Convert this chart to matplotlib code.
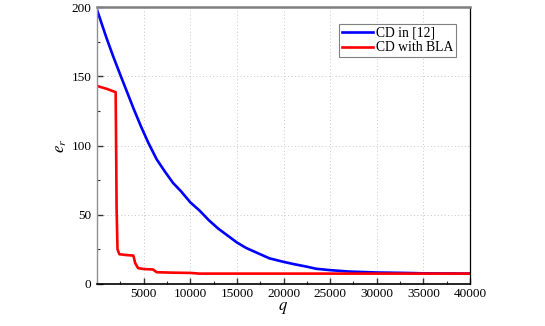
import matplotlib
matplotlib.use("Agg")
import matplotlib.pyplot as plt
from matplotlib.ticker import MultipleLocator

# values
q_cd = [0, 500, 1000, 1700, 2500, 3200, 3900, 4700, 5500, 6400, 7300, 8150,
        9000, 10000, 11000, 12000, 13000, 14000, 15000, 16000, 17000, 18500,
        20000, 21000, 22500, 23500, 25000, 27000, 30000, 33000, 35000, 40000]
e_cd = [198, 188, 178, 165, 151, 139, 127, 114, 102, 90, 81, 73,
        67, 59, 53, 46, 40, 35, 30, 26, 23, 18.5,
        16, 14.5, 12.5, 11, 10, 9, 8.3, 8, 7.7, 7.5]

q_bla = [0, 1000, 2000, 2050, 2100, 2200, 2400, 3000, 3900, 4100, 4400,
         5000, 6000, 6400, 8000, 10000, 11000, 40000]
e_bla = [143, 141, 138.5, 100, 55, 25, 21.5, 21, 20.5, 15, 11.5,
         10.8, 10.5, 8.5, 8.2, 8, 7.5, 7.5]

x_ticks = [5000, 10000, 15000, 20000, 25000, 30000, 35000, 40000]
y_ticks = [0, 50, 100, 150, 200]

plt.rcParams["font.family"] = ["Liberation Serif", "DejaVu Serif"]
plt.rcParams["mathtext.fontset"] = "stix"

fig = plt.figure(figsize=(5.45, 3.26), dpi=100)
ax = fig.add_axes([97 / 545, 1 - 284 / 326, (470 - 97) / 545, (284 - 7) / 326])

ax.plot(q_cd, e_cd, color="#0000ff", lw=1.9, label="CD in [12]")
ax.plot(q_bla, e_bla, color="#ff0000", lw=1.9, label="CD with BLA")

ax.set_xlim(0, 40000)
ax.set_ylim(0, 200)
ax.set_xticks(x_ticks)
ax.set_yticks(y_ticks)
ax.xaxis.set_minor_locator(MultipleLocator(2500))
ax.yaxis.set_minor_locator(MultipleLocator(25))
ax.tick_params(which="both", direction="in", labelsize=9.5, color="#333333")
ax.tick_params(axis="x", pad=3)
ax.tick_params(axis="y", pad=4)
ax.tick_params(which="major", length=4.5, width=1)
ax.tick_params(which="minor", length=2.5, width=0.8)
ax.tick_params(top=False, right=False, which="both")

ax.grid(True, which="major", linestyle=(0, (1, 2.5)), color="#c8c8c8", lw=0.7)

ax.spines["top"].set_color("#808080")
ax.spines["top"].set_linewidth(1.8)
ax.spines["left"].set_color("#909090")
ax.spines["left"].set_linewidth(1.0)
ax.spines["right"].set_color("black")
ax.spines["right"].set_linewidth(0.9)
ax.spines["bottom"].set_color("black")
ax.spines["bottom"].set_linewidth(1.2)

ax.set_xlabel("$q$", fontsize=12, labelpad=0)
ax.set_ylabel("$e_r$", fontsize=12, labelpad=2)

leg = ax.legend(loc="upper right", bbox_to_anchor=(0.962, 0.94), fontsize=9.8,
                handlelength=2.3, handletextpad=0.2, borderpad=0.2,
                labelspacing=0.15, borderaxespad=0, fancybox=False, framealpha=1)
leg.get_frame().set_edgecolor("#808080")
leg.get_frame().set_linewidth(0.8)

fig.savefig("out.png", dpi=100)
